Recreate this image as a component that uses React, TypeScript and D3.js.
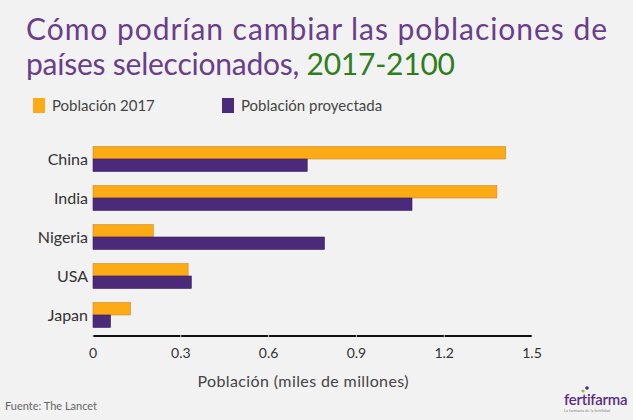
import * as d3 from "d3";
import React from "react";

const countries = ["China", "India", "Nigeria", "USA", "Japan"];
const pop2017 = [1.41, 1.38, 0.206, 0.325, 0.128];
const pop2100 = [0.732, 1.09, 0.791, 0.336, 0.06];
const xTickValues = [0, 0.3, 0.6, 0.9, 1.2, 1.5];
const seriesNames = ["Población 2017", "Población proyectada"];

const width = 633;
const height = 420;
const colors = ["#FDAB15", "#4C2A7A"];
const strokes = ["#C98A2A", "#3A1E60"];
const font = "Lato, 'Noto Sans', sans-serif";

export default function App() {
  const x = d3.scaleLinear([0, 1.5], [93, 532]);
  const y = d3
    .scaleBand<string>()
    .domain(countries)
    .range([139.5, 334.5])
    .paddingInner(0.36)
    .paddingOuter(0.18);
  const sub = d3
    .scaleBand<number>()
    .domain([0, 1])
    .range([0, y.bandwidth()]);
  const series = [pop2017, pop2100];
  const axisY = 336;

  return (
    <div style={{ position: "absolute", left: 0, top: 0 }}>
      <svg width={width} height={height} style={{ display: "block" }} fontFamily={font}>
        <rect width={width} height={height} fill="#F2F2F2" />

        {/* title */}
        <g fontSize={30} fill="#6A3E8A">
          <text x={26} y={40} textLength={581} lengthAdjust="spacing">
            Cómo podrían cambiar las poblaciones de
          </text>
          <text x={26} y={75} textLength={429} lengthAdjust="spacing">
            países seleccionados, <tspan fill="#2F7D1C">2017-2100</tspan>
          </text>
        </g>

        {/* legend */}
        <g fontSize={15} fill="#444">
          {seriesNames.map((name, i) => (
            <g key={name} transform={`translate(${[33, 222][i]},98)`}>
              <rect width={12} height={15} fill={colors[i]} />
              <text x={19} y={13}>
                {name}
              </text>
            </g>
          ))}
        </g>

        {/* bars */}
        {countries.map((c, ci) => (
          <g key={c} transform={`translate(0,${y(c)})`}>
            {series.map((vals, si) => (
              <rect
                key={si}
                x={x(0)}
                y={sub(si)}
                width={x(vals[ci]) - x(0)}
                height={sub.bandwidth()}
                fill={colors[si]}
                stroke={strokes[si]}
                strokeWidth={0.6}
              />
            ))}
            <text
              x={88}
              y={y.bandwidth() / 2}
              dy="0.35em"
              textAnchor="end"
              fontSize={16}
              fill="#333"
            >
              {c}
            </text>
          </g>
        ))}

        {/* x-axis */}
        <g>
          <line x1={x(0)} x2={x(1.5)} y1={axisY} y2={axisY} stroke="#111" strokeWidth={2} />
          {xTickValues.map((v) => (
            <g key={v} transform={`translate(${x(v)},0)`}>
              <line y1={axisY - 1} y2={axisY + 1} stroke="#bbb" strokeWidth={1} />
              <text y={358} textAnchor="middle" fontSize={14} fill="#333">
                {v}
              </text>
            </g>
          ))}
          <text x={303} y={387} textAnchor="middle" fontSize={16} fill="#444" textLength={211} lengthAdjust="spacing">
            Población (miles de millones)
          </text>
        </g>

        <text x={5} y={410} fontSize={11} fill="#666">
          Fuente: The Lancet
        </text>

        {/* logo */}
        <g transform="translate(564,0)">
          <circle cx={19} cy={391} r={1.6} fill="#8DC63F" />
          <circle cx={23} cy={388} r={1.8} fill="#4C2A7A" />
          <text x={0} y={405} fontSize={15} fill="#5A2D82" fontWeight={600} letterSpacing={-0.3}>
            fertifarma
          </text>
          <text x={0} y={412} fontSize={4} fill="#888">
            La farmacia de la fertilidad
          </text>
        </g>
      </svg>
    </div>
  );
}
